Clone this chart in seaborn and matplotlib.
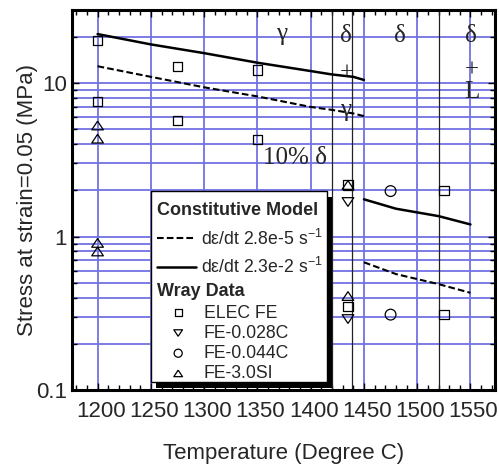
import matplotlib
matplotlib.use("Agg")
import matplotlib.pyplot as plt
import seaborn as sns
from matplotlib.patches import Rectangle
from matplotlib.ticker import LogLocator, MultipleLocator, FuncFormatter, NullFormatter
from matplotlib.font_manager import FontProperties
from matplotlib.transforms import ScaledTranslation

# ---- constitutive model curves (stress at 5% strain, MPa) ----
gamma_temp = [1200, 1250, 1300, 1350, 1400, 1420, 1440, 1450]
gamma_slow = [12.9, 11.0, 9.4, 8.2, 7.0, 6.7, 6.35, 6.1]        # 2.8e-5 1/s
gamma_fast = [20.9, 17.9, 15.7, 13.6, 12.0, 11.4, 11.0, 10.5]   # 2.3e-2 1/s
delta_temp = [1450, 1480, 1520, 1550]
delta_slow = [0.68, 0.57, 0.49, 0.43]
delta_fast = [1.75, 1.52, 1.36, 1.20]

# ---- Wray measurements ----
elec_temp = [1200, 1200, 1275, 1275, 1350, 1350, 1435, 1435, 1525, 1525]
elec_stress = [18.9, 7.6, 12.8, 5.7, 12.2, 4.3, 2.17, 0.35, 2.0, 0.31]
c028_temp = [1435, 1435]
c028_stress = [1.68, 0.29]
c044_temp = [1475, 1475]
c044_stress = [1.98, 0.31]
si_temp = [1200, 1200, 1200, 1200, 1435, 1435]
si_stress = [5.3, 4.35, 0.91, 0.80, 2.17, 0.41]

# phase boundaries (deg C)
phase_bounds = [1420, 1439, 1520]

# phase annotations: text, temperature, stress
phase_text = ["γ", "δ", "δ", "δ", "+", "+\nL", "γ", "10% δ"]
phase_temp = [1373, 1433.5, 1483.5, 1550.7, 1434, 1551.5, 1432.5, 1355.5]
phase_val = [21.0, 20.3, 20.3, 20.3, 11.5, 10.3, 6.7, 3.25]
phase_ha = ["center"] * 7 + ["left"]

x_ticks = [1200, 1250, 1300, 1350, 1400, 1450, 1500, 1550]

sns.set_theme(style="ticks")
plt.rcParams["font.family"] = ["Liberation Sans", "DejaVu Sans"]
plt.rcParams["mathtext.default"] = "regular"

fig = plt.figure(figsize=(4.99, 4.65), dpi=100)
ax = fig.add_axes([72 / 499, 75 / 465, 423 / 499, 380 / 465])
ax.set_yscale("log")

dash = (0, (3.2, 1.5))
slow_label = "dε/dt 2.8e-5 s$^{-1}$"
fast_label = "dε/dt 2.3e-2 s$^{-1}$"

sns.lineplot(x=gamma_temp, y=gamma_slow, ax=ax, color="black", lw=1.5,
             linestyle=dash, label=slow_label, estimator=None, zorder=3)
sns.lineplot(x=gamma_temp, y=gamma_fast, ax=ax, color="black", lw=1.8,
             label=fast_label, estimator=None, zorder=3)
sns.lineplot(x=delta_temp, y=delta_slow, ax=ax, color="black", lw=1.5,
             linestyle=dash, estimator=None, zorder=3)
sns.lineplot(x=delta_temp, y=delta_fast, ax=ax, color="black", lw=1.8,
             estimator=None, zorder=3)

tri_up = [(0, 0.75), (-1, -0.75), (1, -0.75), (0, 0.75)]
tri_dn = [(0, -0.75), (-1, 0.75), (1, 0.75), (0, -0.75)]
mk = dict(facecolor="none", edgecolor="black", linewidth=0.9, zorder=4, ax=ax)
sns.scatterplot(x=elec_temp, y=elec_stress, marker="s", s=45, label="ELEC FE", **mk)
sns.scatterplot(x=c028_temp, y=c028_stress, marker=tri_dn, s=70, label="FE-0.028C", **mk)
sns.scatterplot(x=c044_temp, y=c044_stress, marker="o", s=60, label="FE-0.044C", **mk)
sns.scatterplot(x=si_temp, y=si_stress, marker=tri_up, s=70, label="FE-3.0SI", **mk)

for xb in phase_bounds:
    ax.axvline(xb, color="#222222", lw=0.9, zorder=2)

for t, xv, yv, ha in zip(phase_text, phase_temp, phase_val, phase_ha):
    ax.text(xv, yv, t, family=["Liberation Serif", "DejaVu Serif"], fontsize=18,
            ha=ha, va="center", multialignment="center", linespacing=0.92,
            zorder=3)

ax.set_xlim(1176, 1573)
ax.set_ylim(0.1, 30)
ax.xaxis.set_minor_locator(MultipleLocator(10))
ax.set_xticks(x_ticks)
ax.yaxis.set_major_locator(LogLocator(base=10))
ax.yaxis.set_minor_locator(LogLocator(base=10, subs=range(2, 10)))
ax.yaxis.set_major_formatter(FuncFormatter(lambda v, p: f"{v:g}"))
ax.yaxis.set_minor_formatter(NullFormatter())

grid_col = "#7272e4"
ax.grid(which="major", axis="x", color=grid_col, lw=1.3, zorder=1)
ax.grid(which="both", axis="y", color=grid_col, lw=1.3, zorder=1)
ax.set_axisbelow(True)

ax.tick_params(which="both", direction="in", top=True, right=True,
               color="black", labelsize=16, width=1)
ax.tick_params(which="major", length=5)
ax.tick_params(which="minor", length=3.5)
ax.tick_params(axis="x", which="major", pad=8)
for s in ax.spines.values():
    s.set_linewidth(2.2)
    s.set_color("black")

shift = ScaledTranslation(3 / 100, 0, fig.dpi_scale_trans)
for lbl in ax.get_xticklabels():
    lbl.set_transform(lbl.get_transform() + shift)

ax.set_xlabel("Temperature (Degree C)", fontsize=16, labelpad=15)
ax.set_ylabel("Stress at strain=0.05 (MPa)", fontsize=16, labelpad=-1)

# legend panel with drop shadow
def ax_x(px):
    return (px - 72) / 423

def ax_y(py):
    return (390 - py) / 380

x0, x1 = ax_x(151), ax_x(326.7)
y0, y1 = ax_y(381.5), ax_y(190.7)
ax.add_patch(Rectangle((x0 + 5 / 423, y0 - 6 / 380), x1 - x0, y1 - y0,
                       transform=ax.transAxes, facecolor="black",
                       edgecolor="none", zorder=5, clip_on=False))
ax.add_patch(Rectangle((x0, y0), x1 - x0, y1 - y0, transform=ax.transAxes,
                       facecolor="white", edgecolor="black", lw=1, zorder=6))

for head, py in (("Constitutive Model", 210), ("Wray Data", 291.7)):
    ax.text(ax_x(157), ax_y(py), head, transform=ax.transAxes, ha="left",
            va="center", fontsize=13, fontweight="bold", zorder=7)

handles, labels = ax.get_legend_handles_labels()
lab_fp = FontProperties(family="Liberation Sans", size=12.7)

leg1 = ax.legend(handles[:2], labels[:2], loc="upper left",
                 bbox_to_anchor=(ax_x(157), ax_y(228.5)),
                 bbox_transform=ax.transAxes, frameon=False,
                 borderpad=0, borderaxespad=0, handlelength=2.2,
                 handletextpad=0.32, labelspacing=0.48, prop=lab_fp)
leg1.set_zorder(7)
ax.add_artist(leg1)

leg2 = ax.legend(handles[2:], labels[2:], loc="upper left",
                 bbox_to_anchor=(ax_x(157), ax_y(304.5)),
                 bbox_transform=ax.transAxes, frameon=False,
                 borderpad=0, borderaxespad=0, handlelength=2.4,
                 handletextpad=0.25, labelspacing=0.18, prop=lab_fp,
                 markerscale=0.75)
leg2.set_zorder(7)

fig.savefig("out.png", dpi=100)
